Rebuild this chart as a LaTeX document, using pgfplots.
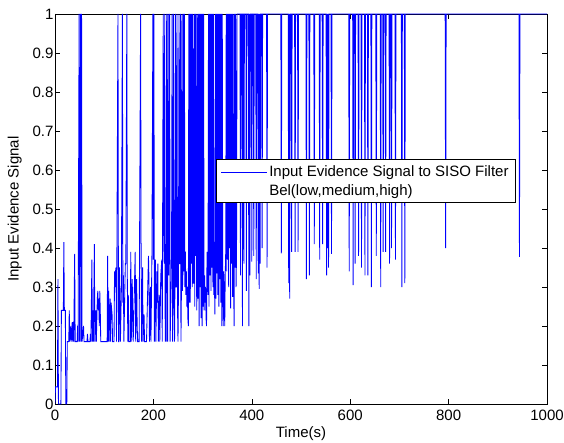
\documentclass[border=0pt]{standalone}
\usepackage{fontspec}
\setmainfont{Liberation Sans}
\usepackage{pgfplots}
\pgfplotsset{compat=1.18}
\definecolor{sigblue}{RGB}{0,0,255}
\begin{document}
\begin{tikzpicture}[font=\fontsize{15bp}{17bp}\selectfont]
\useasboundingbox (-55bp,-39bp) rectangle (509bp,404bp);
\begin{axis}[
  at={(0,0)}, anchor=south west,
  scale only axis, width=492bp, height=390bp,
  xmin=0, xmax=1000, ymin=0, ymax=1,
  xtick={0,200,400,600,800,1000},
  ytick={0,0.1,0.2,0.3,0.4,0.5,0.6,0.7,0.8,0.9,1},
  yticklabels={0,0.1,0.2,0.3,0.4,0.5,0.6,0.7,0.8,0.9,1},
  xticklabels={0,200,400,600,800,1000},
  tick align=inside, major tick length=5bp,
  tick style={black, line width=0.6bp},
  axis line style={black, line width=0.8bp},
  /pgf/number format/assume math mode=true,
  xticklabel style={yshift=-3bp},
  yticklabel style={xshift=2bp},
  xlabel={Time(s)}, ylabel={Input Evidence Signal},
  xlabel style={yshift=1bp},
  ylabel style={yshift=4bp},
  legend cell align=left,
  legend style={at={(0.327,0.627)}, anchor=north west, draw=black, line width=0.8bp, fill=white,
    inner xsep=5bp, inner ysep=4bp, row sep=2bp, font=\fontsize{15bp}{17bp}\selectfont},
]
\addplot[sigblue, line width=0.85bp,
  legend image code/.code={\fill[fill=sigblue, draw=none] (0bp,-0.42bp) rectangle (46bp,0.42bp);}] coordinates {
(0,0) (1,0.044) (5,0.044) (6,0.32) (7,0) (12,0) (13,0.24) (17,0.24) (18,0.415) (19,0.24) (21,0.24) (22,0) (24,0)
(25,0.16) (28,0.16) (29,0.24) (30,0.16) (32,0.2) (33,0.16) (35,0.21) (36,0.16) (37,0.21) (38,0.16) (40,0.385) (41,0.16)
(45,0.16) (46,0.2) (47,0.16) (49,1) (50,0.16) (52,1) (53,0.16) (54,1) (55,0.16) (58,0.2) (59,0.16) (65,0.16) (66,0.18) (67,0.16)
(71,0.16) (72,0.18) (73,0.16) (75,0.37) (76,0.16) (77,0.24) (78,0.16) (80,0.41) (81,0.16) (83,0.24) (84,0.16) (86,0.27) (87,0.29)
(88,0.24) (89,0.27) (90,0.2) (91,0.29) (92,0.24) (93,0.16) (106,0.16) (107,0.38) (108,0.16) (109,0.29) (110,0.16) (111,0.23)
(112,0.27) (113,0.16) (114,0.26) (116,0.23) (117,0.16) (120,0.16) (121,0.34) (122,0.3) (123,0.34) (124,0.35) (125,0.16)
(128,1) (129,0.16) (130,0.16) (131,0.35) (132,0.28) (133,0.16) (135,0.3) (137,1) (138,0.26) (139,0.33) (140,0.16) (142,0.3)
(143,0.36) (144,0.36) (146,1) (147,0.32) (148,0.16) (149,0.28) (150,0.16) (153,0.16) (154,0.39) (155,0.16) (157,0.32) (158,0.2)
(159,0.16) (163,0.39) (164,0.16) (166,0.32) (167,0.2) (168,0.16) (171,0.16) (174,1) (175,0.38) (176,0.16) (178,0.35) (179,0.16)
(181,0.23) (182,0.16) (186,0.16) (190,0.38) (191,0.32) (192,0.16) (194,0.3) (195,0.16) (197,0.38) (199,1) (200,0.37) (201,1)
(202,0.16) (203,0.29) (204,0.37) (205,0.16) (207,0.34) (208,0.26) (209,0.36) (210,0.16) (212,0.28) (213,0.16) (215,0.33)
(217,0.37) (218,0.16) (220,1) (221,0.41) (222,0.36) (223,1) (224,0.16) (225,0.41) (226,0.16) (227,1) (228,0.41) (229,0.16)
(230,1) (231,0.33) (232,0.41) (233,1) (234,0.16) (236,0.3) (237,0.41) (238,1) (239,0.16) (240,0.3) (241,1) (242,0.27) (243,0.16)
(244,0.36) (245,1) (246,0.3) (247,0.3) (248,1) (249,0.25) (250,0.16) (251,0.3) (252,1) (253,0.36) (254,0.36) (255,1) (256,0.16)
(257,0.3) (258,1) (259,0.29) (260,0.34) (261,1) (262,0.34) (263,1) (264,0.3) (265,0.39) (266,0.28) (267,0.34) (268,0.25)
(269,0.3) (270,0.22) (271,0.2) (272,1) (273,0.26) (274,1) (275,0.26) (276,1) (277,0.36) (278,1) (279,0.3) (280,1) (281,0.31)
(282,0.31) (283,1) (284,0.25) (285,1) (286,0.38) (287,1) (288,0.24) (289,0.33) (290,1) (291,0.27) (292,1) (293,0.2) (294,1)
(295,0.3) (296,1) (297,0.22) (298,1) (299,0.2) (300,1) (301,0.25) (302,1) (303,0.24) (304,0.33) (305,0.26) (306,0.3) (307,0.22)
(308,0.2) (309,0.39) (310,0.32) (311,0.28) (312,1) (313,0.25) (314,1) (315,0.33) (316,1) (317,0.29) (318,1) (319,0.35) (320,1)
(321,0.3) (322,1) (323,0.28) (324,0.32) (325,0.23) (326,1) (327,0.27) (328,1) (329,0.335) (330,1) (331,0.28) (332,1) (333,0.25)
(334,1) (335,0.32) (336,1) (337,0.26) (338,1) (339,0.2) (340,1) (341,0.27) (342,0.2) (343,0.34) (344,0.29) (345,0.2) (346,0.33)
(347,0.39) (348,1) (349,0.34) (350,1) (351,0.37) (352,1) (353,0.3) (354,1)
(355,0.40) (356,1) (357,0.245) (358,1) (359,0.36) (360,1) (361,0.275) (362,1) (363,0.33) (364,0.2) (365,1) (366,0.35) (367,1)
(368,0.3) (369,0.39) (370,1) (376,1) (377,0.33) (378,1) (380,1) (381,0.2) (382,1) (383,1) (384,0.36) (385,1) (388,1) (389,0.29)
(390,1) (393,1) (394,0.2) (395,1) (396,0.33) (397,1) (399,1) (400,0.365) (401,1) (403,1) (404,0.38) (405,1) (408,1) (409,0.32)
(410,1) (412,1) (413,0.335) (414,1) (415,0.295) (416,1) (417,0.36) (418,1) (420,1) (421,0.4) (422,1) (430,1) (431,0.35) (432,1)
(459,1) (460,0.386) (461,1)
(474,1) (475,0.31) (476,1) (477,0.27) (478,1) (480,1) (481,0.39) (482,1) (487,1) (488,0.39) (489,1) (493,1) (494,0.39) (495,1)
(510,1) (511,0.32) (512,1) (516,1) (517,0.33) (518,1) (526,1) (527,0.41) (528,1) (537,1) (538,0.37) (539,1) (543,1) (544,0.41)
(545,1) (551,1) (552,0.33) (553,1) (554,0.40) (555,1) (556,0.35) (557,1) (561,1) (562,0.385) (563,1) (597,1) (598,0.34) (599,1)
(605,1) (606,0.305) (607,1) (609,1) (610,0.36) (611,1) (616,1) (617,0.38) (618,1) (622,1) (623,0.35) (624,1) (629,1) (630,0.33)
(631,1) (635,1) (636,0.33) (637,1) (642,1) (643,0.30) (644,1) (652,1) (653,0.38) (654,1) (661,1) (662,0.30) (663,1) (666,1)
(667,0.39) (668,1) (671,1) (672,0.39) (673,1) (679,1) (680,0.36) (681,1) (683,1) (684,0.40) (685,1) (691,1) (692,0.37) (693,1)
(704,1) (705,0.30) (706,1) (710,1) (711,0.31) (712,1) (793,1) (794,0.40) (795,1) (943,1) (944,0.377) (945,1) (1000,1)
};
\addlegendentry{Input Evidence Signal to SISO Filter}
\addlegendimage{empty legend}
\addlegendentry{Bel(low,medium,high)}
\end{axis}
\end{tikzpicture}
\end{document}
